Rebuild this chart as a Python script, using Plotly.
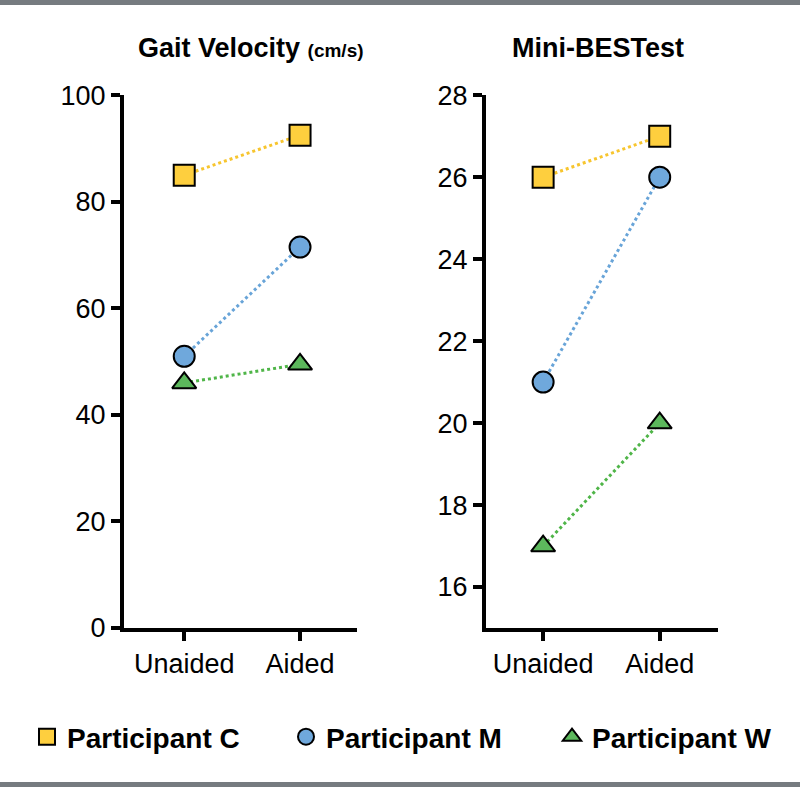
import plotly.graph_objects as go
from plotly.subplots import make_subplots

conditions = ["Unaided", "Aided"]
participants = ["Participant C", "Participant M", "Participant W"]

gait_velocity = {
    "Participant C": [85, 92.5],
    "Participant M": [51, 71.5],
    "Participant W": [46, 49.5],
}
mini_bestest = {
    "Participant C": [26, 27],
    "Participant M": [21, 26],
    "Participant W": [17, 20],
}

gait_ticks = [0, 20, 40, 60, 80, 100]
mini_ticks = [16, 18, 20, 22, 24, 26, 28]

marker_colors = {"Participant C": "#fecf3e", "Participant M": "#6fa8dc", "Participant W": "#5cb85c"}
line_colors = {"Participant C": "#f7c52e", "Participant M": "#68a4d8", "Participant W": "#4fb548"}
symbols = {"Participant C": "square", "Participant M": "circle", "Participant W": "triangle-up"}
# one small legend per participant, so each sits where the reference has it
legend_ids = {"Participant C": "legend", "Participant M": "legend2", "Participant W": "legend3"}
legend_x = {"legend": 27, "legend2": 286, "legend3": 552}

fig = make_subplots(rows=1, cols=2)

for col, data in [(1, gait_velocity), (2, mini_bestest)]:
    for p in participants:
        fig.add_trace(go.Scatter(
            x=conditions, y=data[p], mode="lines",
            line=dict(color=line_colors[p], width=3, dash="dot"),
            showlegend=False, hoverinfo="skip"), row=1, col=col)
    for p in participants:
        fig.add_trace(go.Scatter(
            x=conditions, y=data[p], mode="markers", name=f"<b>{p}</b>",
            marker=dict(symbol=symbols[p], size=21, color=marker_colors[p],
                        line=dict(color="black", width=2)),
            legend=legend_ids[p], legendgroup=p, showlegend=(col == 1)), row=1, col=col)

axis_style = dict(showline=True, linecolor="black", linewidth=4, ticks="outside",
                  tickwidth=4, tickcolor="black", ticklen=9, showgrid=False, zeroline=False,
                  automargin=False,
                  tickfont=dict(family="Liberation Sans, Arial", size=27, color="black"))

fig.update_xaxes(axis_style)
fig.update_yaxes(axis_style)
fig.update_xaxes(type="category", range=[-0.52, 1.49], domain=[0.155, 0.446], row=1, col=1)
fig.update_xaxes(type="category", range=[-0.49, 1.5], domain=[0.6075, 0.8975], row=1, col=2)
fig.update_yaxes(range=[0, 100], tickvals=gait_ticks, domain=[0.202, 0.879], row=1, col=1)
fig.update_yaxes(range=[15, 28], tickvals=mini_ticks, domain=[0.202, 0.879], row=1, col=2)

title_font = dict(family="Liberation Sans, Arial", size=27, color="black")
fig.add_annotation(text="<b>Gait Velocity <span style='font-size:19px'>(cm/s)</span></b>",
                   x=251 / 800, y=1 - 48 / 787, xref="paper", yref="paper",
                   xanchor="center", yanchor="middle", showarrow=False, font=title_font)
fig.add_annotation(text="<b>Mini-BESTest</b>",
                   x=598 / 800, y=1 - 48 / 787, xref="paper", yref="paper",
                   xanchor="center", yanchor="middle", showarrow=False, font=title_font)

# grey bars top and bottom
for y0, y1 in [(1 - 5 / 787, 1), (0, 5 / 787)]:
    fig.add_shape(type="rect", xref="paper", yref="paper", x0=0, x1=1, y0=y0, y1=y1,
                  fillcolor="#767b80", line_width=0)

legend_style = dict(orientation="h", xanchor="left", y=1 - 737 / 787, yanchor="middle",
                    font=dict(family="Liberation Sans, Arial", size=28, color="black"),
                    itemsizing="trace")

fig.update_layout(
    width=800, height=787,
    margin=dict(l=0, r=0, t=0, b=0),
    plot_bgcolor="white", paper_bgcolor="white",
    legend=dict(legend_style, x=legend_x["legend"] / 800),
    legend2=dict(legend_style, x=legend_x["legend2"] / 800),
    legend3=dict(legend_style, x=legend_x["legend3"] / 800),
)

fig.write_html("out.html", config={"displayModeBar": False},
               post_script="document.body.style.margin = '0';")
